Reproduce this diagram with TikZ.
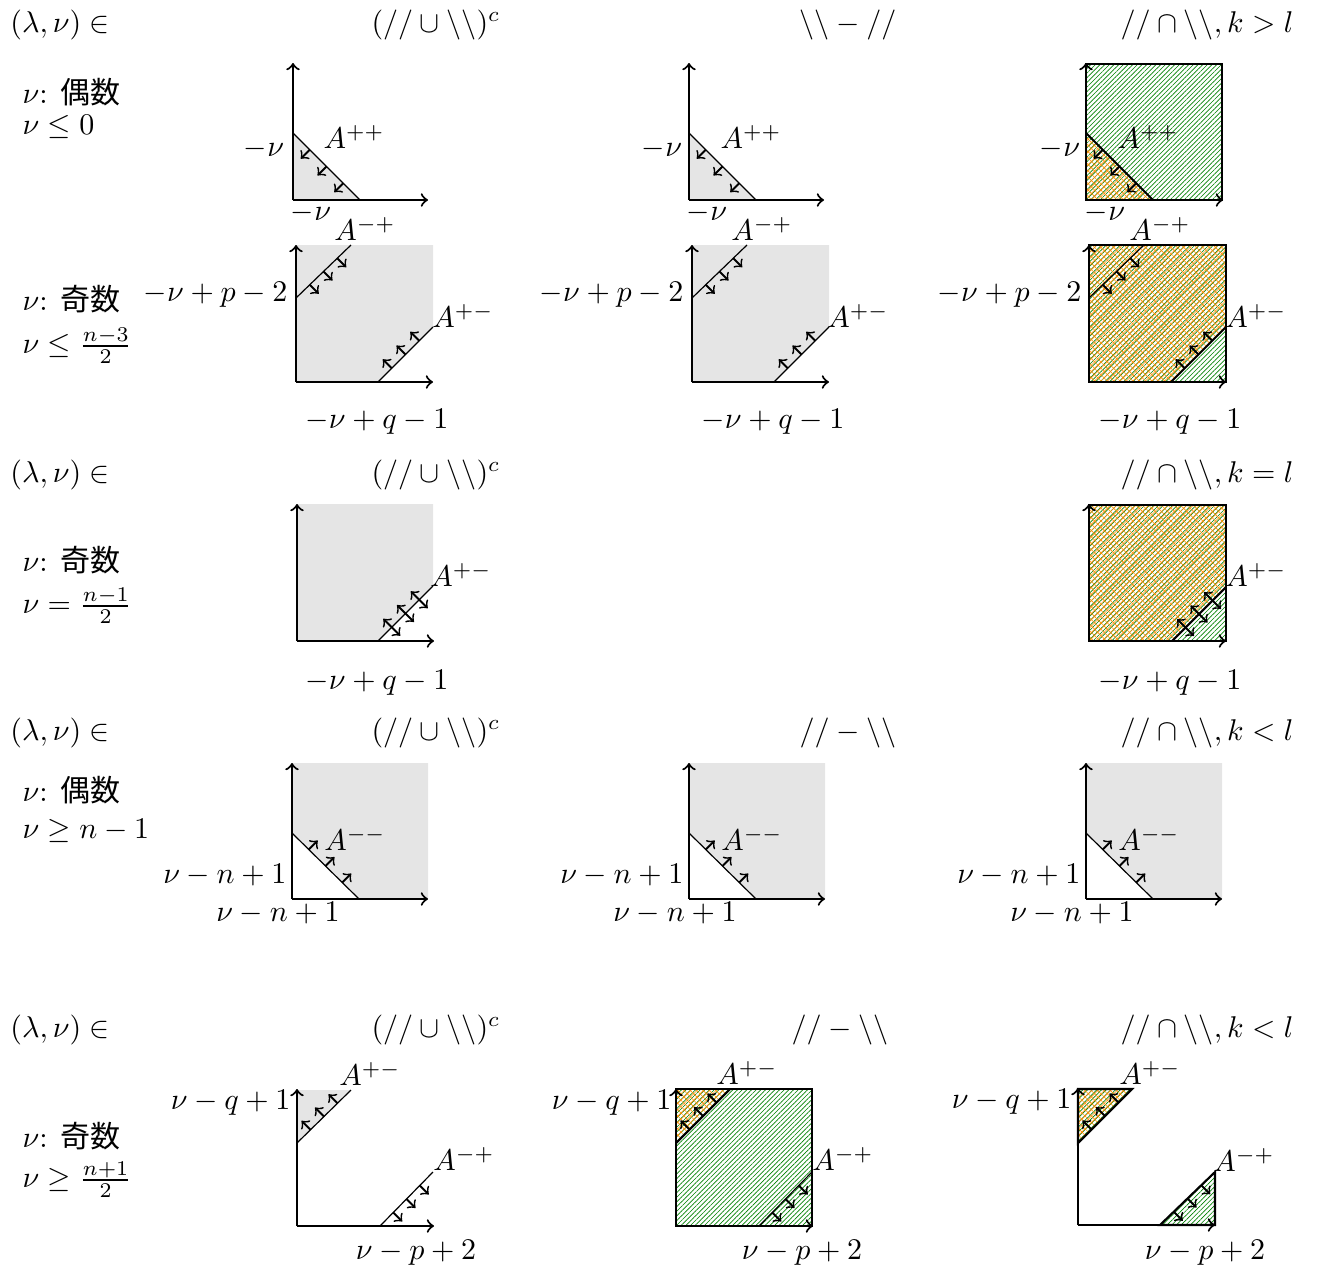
\documentclass[tikz,border=0pt]{standalone}
\usepackage{fontspec}
\newfontfamily\jp{Noto Sans CJK JP}
\usetikzlibrary{patterns.meta}
\definecolor{hgreen}{rgb}{0,0.5,0}
\definecolor{horange}{rgb}{1,0.55,0}
\tikzset{
  ax/.style={line width=0.7pt,->},
  bd/.style={line width=0.4pt},
  sa/.style={line width=0.6pt,->},
  da/.style={line width=0.6pt,<->},
  lab/.style={inner sep=0pt},
  gfill/.style={fill=gray!20},
  ghatch/.style={pattern={Lines[angle=45,distance=1.1pt,line width=0.22pt]},pattern color=hgreen},
  ohatchA/.style={pattern={Lines[angle=45,distance=1.5pt,line width=0.2pt]},pattern color=horange},
  ohatchB/.style={pattern={Lines[angle=-45,distance=1.5pt,line width=0.2pt]},pattern color=horange},
  frame/.style={line width=0.7pt},
}
\begin{document}
\begin{tikzpicture}[x=0.33333pt,y=-0.33333pt]
\useasboundingbox (0,0) rectangle (1319,1272);

% ---------- headers ----------
\node[lab] (h1a) at (60,25) {$(\lambda,\nu)\in$};
\node[lab] (h1b) at (436,25) {$(//\cup\backslash\backslash)^c$};
\node[lab] (h1c) at (848,25) {$\backslash\backslash-//$};
\node[lab] (h1d) at (1207,25) {$//\cap\backslash\backslash, k>l$};

\node[lab] (h3a) at (60,475) {$(\lambda,\nu)\in$};
\node[lab] (h3b) at (436,475) {$(//\cup\backslash\backslash)^c$};
\node[lab] (h3d) at (1207,475) {$//\cap\backslash\backslash, k=l$};

\node[lab] (h4a) at (60,733) {$(\lambda,\nu)\in$};
\node[lab] (h4b) at (436,733) {$(//\cup\backslash\backslash)^c$};
\node[lab] (h4c) at (848,733) {$//-\backslash\backslash$};
\node[lab] (h4d) at (1207,733) {$//\cap\backslash\backslash, k<l$};

\node[lab] (h5a) at (60,1030) {$(\lambda,\nu)\in$};
\node[lab] (h5b) at (436,1030) {$(//\cup\backslash\backslash)^c$};
\node[lab] (h5c) at (840,1030) {$//-\backslash\backslash$};
\node[lab] (h5d) at (1207,1030) {$//\cap\backslash\backslash, k<l$};

% ---------- left conditions ----------
\node[lab,anchor=west] (l1a) at (22,92) {$\nu$: {\jp 偶数}};
\node[lab,anchor=west] (l1b) at (22,127) {$\nu\leq 0$};
\node[lab,anchor=west] (l2a) at (22,299) {$\nu$: {\jp 奇数}};
\node[lab,anchor=west] (l2b) at (22,346) {$\nu\leq \frac{n-3}{2}$};
\node[lab,anchor=west] (l3a) at (22,560) {$\nu$: {\jp 奇数}};
\node[lab,anchor=west] (l3b) at (22,606) {$\nu= \frac{n-1}{2}$};
\node[lab,anchor=west] (l4a) at (22,790) {$\nu$: {\jp 偶数}};
\node[lab,anchor=west] (l4b) at (22,831) {$\nu\geq n-1$};
\node[lab,anchor=west] (l5a) at (22,1136) {$\nu$: {\jp 奇数}};
\node[lab,anchor=west] (l5b) at (22,1180) {$\nu\geq \frac{n+1}{2}$};

% ---------- row 1 ----------
\begin{scope}[shift={(293,200)}]
\fill[gfill] (0,0) -- (0,-67) -- (67,0) -- cycle;
\draw[bd] (0,-67) -- (67,0);
\draw[ax] (0,0) -- (0,-137);
\draw[ax] (0,0) -- (135,0);
\foreach \px/\py in {16.75/-50.25,33.5/-33.5,50.25/-16.75} \draw[sa] (\px,\py) -- ++(-9,9);
\node[lab] (r1c1y) at (-29,-51) {$-\nu$};
\node[lab] (r1c1a) at (61,-63) {$A^{++}$};
\node[lab] (r1c1x) at (18,13) {$-\nu$};
\end{scope}

\begin{scope}[shift={(689,200)}]
\fill[gfill] (0,0) -- (0,-67) -- (67,0) -- cycle;
\draw[bd] (0,-67) -- (67,0);
\draw[ax] (0,0) -- (0,-137);
\draw[ax] (0,0) -- (135,0);
\foreach \px/\py in {16.75/-50.25,33.5/-33.5,50.25/-16.75} \draw[sa] (\px,\py) -- ++(-9,9);
\node[lab] (r1c2y) at (-27,-51) {$-\nu$};
\node[lab] (r1c2a) at (62,-63) {$A^{++}$};
\node[lab] (r1c2x) at (18,13) {$-\nu$};
\end{scope}

\begin{scope}[shift={(1086,200)}]
\fill[ghatch] (0,0) rectangle (136,-136);
\fill[ohatchA] (0,0) -- (0,-67) -- (67,0) -- cycle;
\fill[ohatchB] (0,0) -- (0,-67) -- (67,0) -- cycle;
\draw[frame] (0,0) rectangle (136,-136);
\draw[frame] (0,-67) -- (67,0);
\draw[ax] (0,0) -- (0,-137);
\draw[ax] (0,0) -- (137,0);
\foreach \px/\py in {16.75/-50.25,33.5/-33.5,50.25/-16.75} \draw[sa] (\px,\py) -- ++(-9,9);
\node[lab] (r1c3y) at (-26,-51) {$-\nu$};
\node[lab] (r1c3a) at (62,-63) {$A^{++}$};
\node[lab] (r1c3x) at (19,13) {$-\nu$};
\end{scope}

% ---------- row 2 ----------
\begin{scope}[shift={(296,382)}]
\fill[gfill] (0,0) -- (0,-137) -- (137,-137) -- (137,-55) -- (82,0) -- cycle;
\draw[bd] (0,-84) -- (55,-137);
\draw[bd] (82,0) -- (137,-55);
\draw[ax] (0,0) -- (0,-137);
\draw[ax] (0,0) -- (137,0);
\foreach \px/\py in {13.75/-97.25,27.5/-110.5,41.25/-123.75} \draw[sa] (\px,\py) -- ++(9,9);
\foreach \px/\py in {95.75/-13.75,109.5/-27.5,123.25/-41.25} \draw[sa] (\px,\py) -- ++(-9,-9);
\node[lab,anchor=east] (r2c1y) at (-8,-87) {$-\nu+p-2$};
\node[lab] (r2c1a) at (69,-153) {$A^{-+}$};
\node[lab] (r2c1b) at (167,-66) {$A^{+-}$};
\node[lab] (r2c1x) at (81,40) {$-\nu+q-1$};
\end{scope}

\begin{scope}[shift={(692,382)}]
\fill[gfill] (0,0) -- (0,-137) -- (137,-137) -- (137,-55) -- (82,0) -- cycle;
\draw[bd] (0,-84) -- (55,-137);
\draw[bd] (82,0) -- (137,-55);
\draw[ax] (0,0) -- (0,-137);
\draw[ax] (0,0) -- (137,0);
\foreach \px/\py in {13.75/-97.25,27.5/-110.5,41.25/-123.75} \draw[sa] (\px,\py) -- ++(9,9);
\foreach \px/\py in {95.75/-13.75,109.5/-27.5,123.25/-41.25} \draw[sa] (\px,\py) -- ++(-9,-9);
\node[lab,anchor=east] (r2c2y) at (-8,-87) {$-\nu+p-2$};
\node[lab] (r2c2a) at (70,-153) {$A^{-+}$};
\node[lab] (r2c2b) at (166,-66) {$A^{+-}$};
\node[lab] (r2c2x) at (81,40) {$-\nu+q-1$};
\end{scope}

\begin{scope}[shift={(1089,382)}]
\fill[ghatch] (0,0) rectangle (137,-137);
\fill[ohatchA] (0,0) -- (0,-137) -- (137,-137) -- (137,-55) -- (82,0) -- cycle;
\fill[ohatchB] (0,0) -- (0,-137) -- (137,-137) -- (137,-55) -- (82,0) -- cycle;
\draw[frame] (0,0) rectangle (137,-137);
\draw[bd] (0,-84) -- (55,-137);
\draw[frame] (82,0) -- (137,-55);
\draw[ax] (0,0) -- (0,-137);
\draw[ax] (0,0) -- (137,0);
\foreach \px/\py in {13.75/-97.25,27.5/-110.5,41.25/-123.75} \draw[sa] (\px,\py) -- ++(9,9);
\foreach \px/\py in {95.75/-13.75,109.5/-27.5,123.25/-41.25} \draw[sa] (\px,\py) -- ++(-9,-9);
\node[lab,anchor=east] (r2c3y) at (-7,-87) {$-\nu+p-2$};
\node[lab] (r2c3a) at (71,-153) {$A^{-+}$};
\node[lab] (r2c3b) at (167,-66) {$A^{+-}$};
\node[lab] (r2c3x) at (81,40) {$-\nu+q-1$};
\end{scope}

% ---------- row 3 ----------
\begin{scope}[shift={(297,641)}]
\fill[gfill] (0,0) -- (0,-137) -- (136,-137) -- (136,-55) -- (81,0) -- cycle;
\draw[bd] (81,0) -- (136,-55);
\draw[ax] (0,0) -- (0,-137);
\draw[ax] (0,0) -- (137,0);
\foreach \px/\py in {94.75/-13.75,108.5/-27.5,122.25/-41.25} \draw[da] (\px-8.5,\py-8.5) -- (\px+8.5,\py+8.5);
\node[lab] (r3c1b) at (164,-66) {$A^{+-}$};
\node[lab] (r3c1x) at (80,42) {$-\nu+q-1$};
\end{scope}

\begin{scope}[shift={(1089,641)}]
\fill[ghatch] (0,0) rectangle (137,-136);
\fill[ohatchA] (0,0) -- (0,-136) -- (137,-136) -- (137,-54) -- (83,0) -- cycle;
\fill[ohatchB] (0,0) -- (0,-136) -- (137,-136) -- (137,-54) -- (83,0) -- cycle;
\draw[frame] (0,0) rectangle (137,-136);
\draw[frame] (83,0) -- (137,-54);
\draw[ax] (0,0) -- (0,-137);
\draw[ax] (0,0) -- (137,0);
\foreach \px/\py in {96.5/-13.5,110/-27,123.5/-40.5} \draw[da] (\px-8.5,\py-8.5) -- (\px+8.5,\py+8.5);
\node[lab] (r3c3b) at (167,-66) {$A^{+-}$};
\node[lab] (r3c3x) at (81,42) {$-\nu+q-1$};
\end{scope}

% ---------- row 4 ----------
\begin{scope}[shift={(292,899)}]
\fill[gfill] (0,-66) -- (0,-136) -- (136,-136) -- (136,0) -- (67,0) -- cycle;
\draw[bd] (0,-66) -- (67,0);
\draw[ax] (0,0) -- (0,-136);
\draw[ax] (0,0) -- (136,0);
\foreach \px/\py in {16.75/-49.5,33.5/-33,50.25/-16.5} \draw[sa] (\px,\py) -- ++(9,-9);
\node[lab] (r4c1a) at (63,-60) {$A^{--}$};
\node[lab,anchor=east] (r4c1y) at (-5,-24) {$\nu-n+1$};
\node[lab] (r4c1x) at (-14,14) {$\nu-n+1$};
\end{scope}

\begin{scope}[shift={(689,899)}]
\fill[gfill] (0,-66) -- (0,-136) -- (136,-136) -- (136,0) -- (67,0) -- cycle;
\draw[bd] (0,-66) -- (67,0);
\draw[ax] (0,0) -- (0,-136);
\draw[ax] (0,0) -- (136,0);
\foreach \px/\py in {16.75/-49.5,33.5/-33,50.25/-16.5} \draw[sa] (\px,\py) -- ++(9,-9);
\node[lab] (r4c2a) at (63,-60) {$A^{--}$};
\node[lab,anchor=east] (r4c2y) at (-5,-24) {$\nu-n+1$};
\node[lab] (r4c2x) at (-14,14) {$\nu-n+1$};
\end{scope}

\begin{scope}[shift={(1086,899)}]
\fill[gfill] (0,-66) -- (0,-136) -- (136,-136) -- (136,0) -- (67,0) -- cycle;
\draw[bd] (0,-66) -- (67,0);
\draw[ax] (0,0) -- (0,-136);
\draw[ax] (0,0) -- (136,0);
\foreach \px/\py in {16.75/-49.5,33.5/-33,50.25/-16.5} \draw[sa] (\px,\py) -- ++(9,-9);
\node[lab] (r4c3a) at (63,-60) {$A^{--}$};
\node[lab,anchor=east] (r4c3y) at (-5,-24) {$\nu-n+1$};
\node[lab] (r4c3x) at (-14,14) {$\nu-n+1$};
\end{scope}

% ---------- row 5 ----------
\begin{scope}[shift={(297,1226)}]
\fill[gfill] (0,-83) -- (0,-136) -- (54,-136) -- cycle;
\draw[bd] (0,-83) -- (54,-136);
\draw[bd] (83,0) -- (136,-54);
\draw[ax] (0,0) -- (0,-137);
\draw[ax] (0,0) -- (137,0);
\foreach \px/\py in {13.5/-96.25,27/-109.5,40.5/-122.75} \draw[sa] (\px,\py) -- ++(-9,-9);
\foreach \px/\py in {96.25/-13.5,109.5/-27,122.75/-40.5} \draw[sa] (\px,\py) -- ++(9,9);
\node[lab] (r5c1a) at (73,-152) {$A^{+-}$};
\node[lab,anchor=east] (r5c1y) at (-6,-123) {$\nu-q+1$};
\node[lab] (r5c1b) at (167,-67) {$A^{-+}$};
\node[lab] (r5c1x) at (119,27) {$\nu-p+2$};
\end{scope}

\begin{scope}[shift={(676,1226)}]
\fill[ghatch] (0,0) rectangle (136,-137);
\fill[ohatchA] (0,-83) -- (0,-137) -- (54,-137) -- cycle;
\fill[ohatchB] (0,-83) -- (0,-137) -- (54,-137) -- cycle;
\draw[frame] (0,0) rectangle (136,-137);
\draw[frame] (0,-83) -- (54,-137);
\draw[bd] (83,0) -- (136,-54);
\draw[ax] (0,0) -- (0,-137);
\draw[ax] (0,0) -- (137,0);
\foreach \px/\py in {13.5/-96.5,27/-110,40.5/-123.5} \draw[sa] (\px,\py) -- ++(-9,-9);
\foreach \px/\py in {96.25/-13.5,109.5/-27,122.75/-40.5} \draw[sa] (\px,\py) -- ++(9,9);
\node[lab] (r5c2a) at (71,-153) {$A^{+-}$};
\node[lab,anchor=east] (r5c2y) at (-4,-123) {$\nu-q+1$};
\node[lab] (r5c2b) at (167,-67) {$A^{-+}$};
\node[lab] (r5c2x) at (126,27) {$\nu-p+2$};
\end{scope}

\begin{scope}[shift={(1078,1225)}]
\fill[ghatch] (0,-82) -- (0,-136) -- (54,-136) -- cycle;
\fill[ohatchA] (0,-82) -- (0,-136) -- (54,-136) -- cycle;
\fill[ohatchB] (0,-82) -- (0,-136) -- (54,-136) -- cycle;
\fill[ghatch] (82,0) -- (137,-53) -- (137,0) -- cycle;
\draw[frame] (0,-82) -- (0,-136) -- (54,-136) -- cycle;
\draw[frame] (82,0) -- (137,-53) -- (137,0) -- cycle;
\draw[ax] (0,0) -- (0,-137);
\draw[ax] (0,0) -- (137,0);
\foreach \px/\py in {13.5/-95.5,27/-109,40.5/-122.5} \draw[sa] (\px,\py) -- ++(-9,-9);
\foreach \px/\py in {95.75/-13.25,109.5/-26.5,123.25/-39.75} \draw[sa] (\px,\py) -- ++(9,9);
\node[lab] (r5c3a) at (72,-152) {$A^{+-}$};
\node[lab,anchor=east] (r5c3y) at (-6,-123) {$\nu-q+1$};
\node[lab] (r5c3b) at (166,-65) {$A^{-+}$};
\node[lab] (r5c3x) at (127,28) {$\nu-p+2$};
\end{scope}

\end{tikzpicture}
\end{document}
